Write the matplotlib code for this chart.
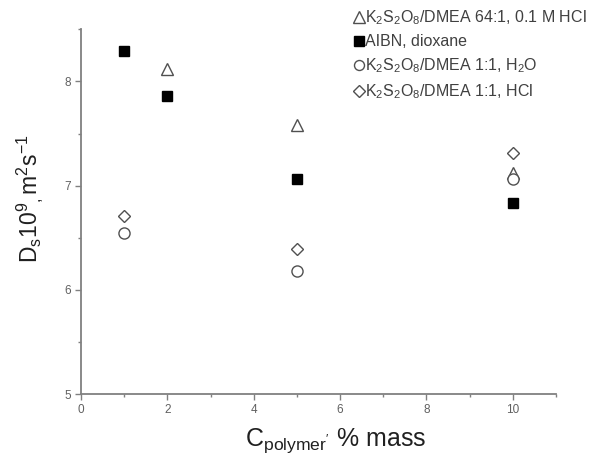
import matplotlib
matplotlib.use("Agg")
import matplotlib.pyplot as plt
from matplotlib.ticker import MultipleLocator

plt.rcParams['font.family'] = ['Liberation Sans', 'DejaVu Sans']
plt.rcParams['mathtext.fontset'] = 'custom'
plt.rcParams['mathtext.rm'] = 'Liberation Sans'
plt.rcParams['mathtext.it'] = 'Liberation Sans'

# diffusion coefficients vs polymer concentration
x_tri = [2, 5, 10]
y_tri = [8.12, 7.58, 7.12]
x_sq = [1, 2, 5, 10]
y_sq = [8.29, 7.86, 7.06, 6.83]
x_circ = [1, 5, 10]
y_circ = [6.55, 6.18, 7.06]
x_dia = [1, 5, 10]
y_dia = [6.71, 6.39, 7.31]

labels = [
    "K$_2$S$_2$O$_8$/DMEA 64:1, 0.1 M HCl",
    "AIBN, dioxane",
    "K$_2$S$_2$O$_8$/DMEA 1:1, H$_2$O",
    "K$_2$S$_2$O$_8$/DMEA 1:1, HCl",
]

axis_col = "#808080"
mark_col = "#505050"

fig = plt.figure(figsize=(5.94, 4.61), dpi=100)
ax = fig.add_axes([0.1364, 0.1453, 0.7997, 0.791])

h1, = ax.plot(x_tri, y_tri, '^', ms=9, mfc='white', mec=mark_col, mew=1.0, ls='none')
h2, = ax.plot(x_sq, y_sq, 's', ms=7.5, mfc='black', mec='black', ls='none')
h3, = ax.plot(x_circ, y_circ, 'o', ms=8, mfc='white', mec=mark_col, mew=1.0, ls='none')
h4, = ax.plot(x_dia, y_dia, 'D', ms=6.5, mfc='white', mec=mark_col, mew=1.0, ls='none')

ax.set_xlim(0, 11)
ax.set_ylim(5, 8.5)
ax.xaxis.set_major_locator(MultipleLocator(2))
ax.xaxis.set_minor_locator(MultipleLocator(1))
ax.yaxis.set_major_locator(MultipleLocator(1))
ax.yaxis.set_minor_locator(MultipleLocator(0.5))

for s in ['top', 'right']:
    ax.spines[s].set_visible(False)
for s in ['left', 'bottom']:
    ax.spines[s].set_color(axis_col)
    ax.spines[s].set_linewidth(1.3)

ax.tick_params(which='major', direction='out', length=4, width=1, color=axis_col,
               labelsize=8.5, labelcolor='#606060', pad=3)
ax.tick_params(which='minor', direction='out', length=2.5, width=1, color=axis_col)

fig.text(0.565, 0.045, "C$_{\\mathrm{polymer}'}$ % mass", ha='center', va='center',
         fontsize=18, color='#202020')
fig.text(0.05, 0.57, "D$_s$10$^9$$_,$m$^2$s$^{-1}$", ha='center', va='center',
         rotation=90, fontsize=16.5, color='#202020')

leg = ax.legend([h1, h2, h3, h4], labels, loc='upper left',
                bbox_to_anchor=(0.562, 1.075), frameon=False, fontsize=11.5,
                handlelength=0.6, handletextpad=0.05, labelspacing=0.45,
                borderaxespad=0, markerscale=0.9)
for t in leg.get_texts():
    t.set_color('#404040')

fig.savefig("out.png", dpi=100)
